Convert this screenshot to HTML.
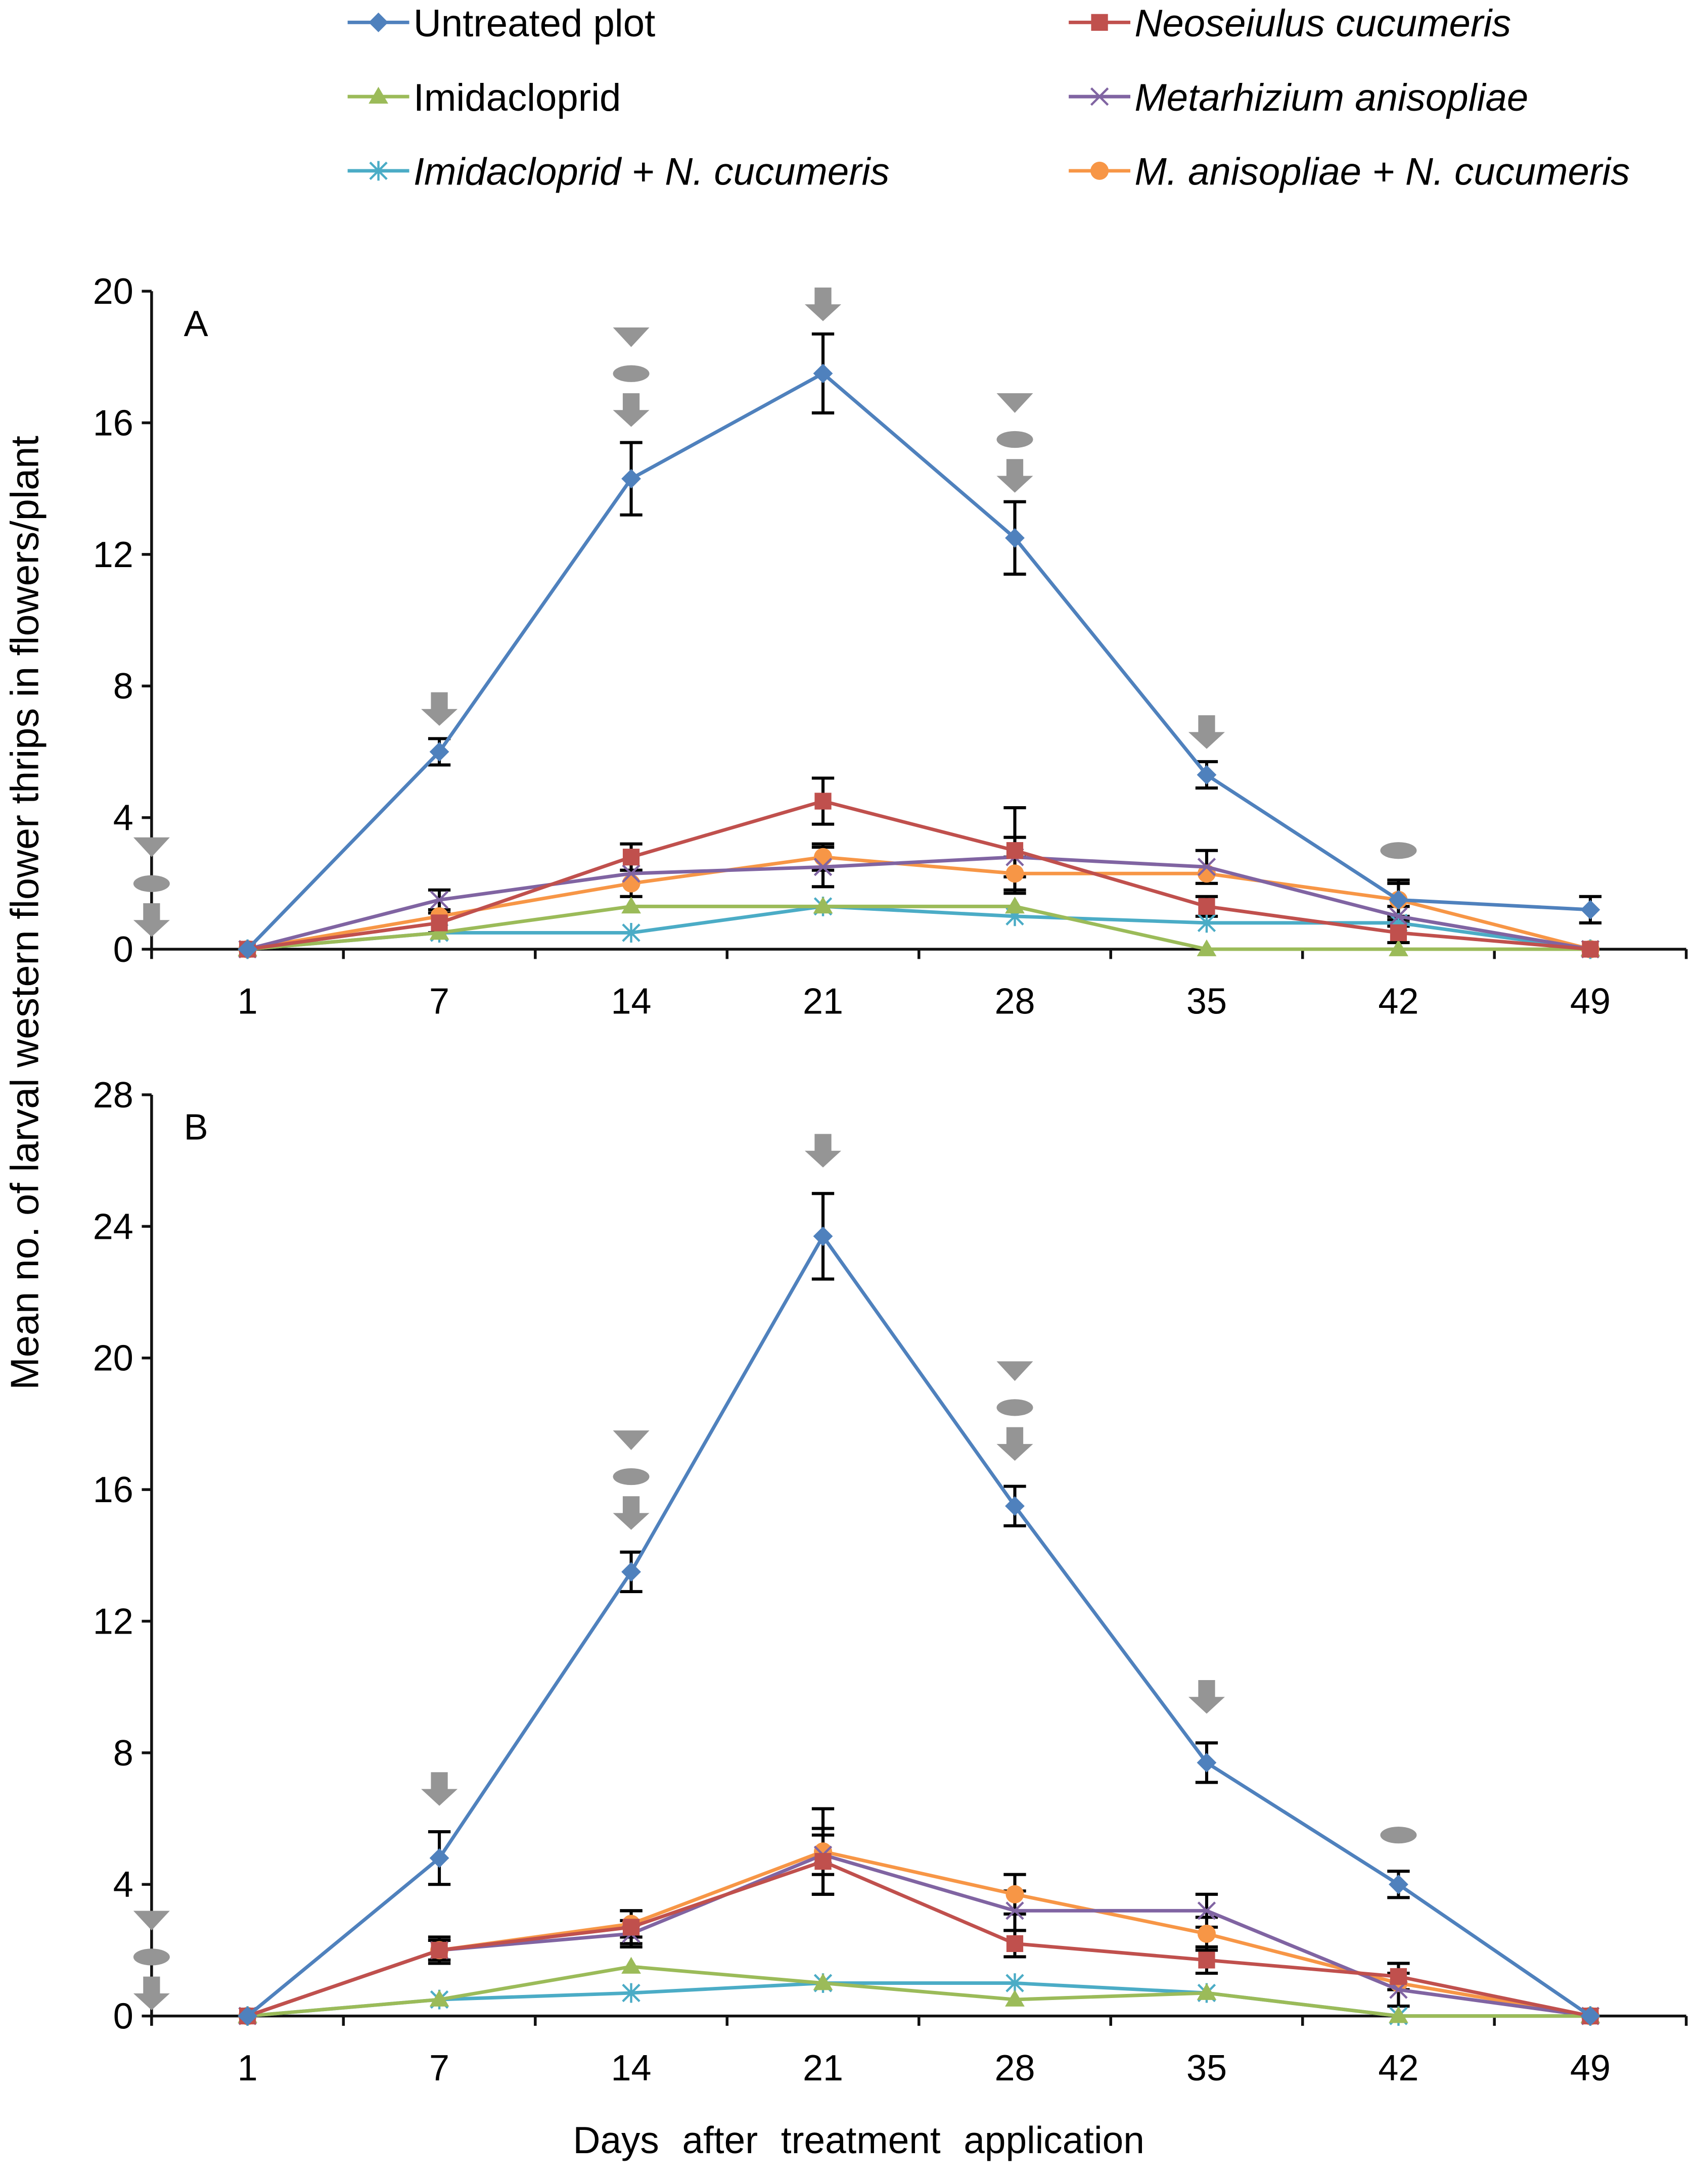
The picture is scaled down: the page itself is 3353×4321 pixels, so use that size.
<!DOCTYPE html>
<html><head><meta charset="utf-8"><style>
html,body{margin:0;padding:0;background:#fff;}
svg{display:block;font-family:"Liberation Sans",Arial,sans-serif;}
</style></head><body>
<svg id="chart" width="3353" height="4321" viewBox="0 0 1210 1560" xmlns="http://www.w3.org/2000/svg">
<g id="legend"></g>
<g id="panelA"></g>
<g id="panelB"></g>
<text x="0" y="0" transform="translate(27,652) rotate(-90)" text-anchor="middle" font-size="28">Mean no. of larval western flower thrips in flowers/plant</text>
<text x="613" y="1538" text-anchor="middle" font-size="27" word-spacing="9">Days after treatment application</text>
</svg>
<script>
const days = ["1","7","14","21","28","35","42","49"];
const seriesNames = ["Untreated plot","Neoseiulus cucumeris","Imidacloprid","Metarhizium anisopliae","Imidacloprid + N. cucumeris","M. anisopliae + N. cucumeris"];
const seriesColors = ["#4f81bd","#c0504d","#9bbb59","#8064a2","#4bacc6","#f79646"];
const seriesMarkers = ["diamond","square","triangle","x","star","circle"];
const ticksA = [0,4,8,12,16,20];
const ticksB = [0,4,8,12,16,20,24,28];
// Panel A values
const aUntreated = [0,6.0,14.3,17.5,12.5,5.3,1.5,1.2];
const aNeo = [0,0.8,2.8,4.5,3.0,1.3,0.5,0];
const aImid = [0,0.5,1.3,1.3,1.3,0,0,0];
const aMeta = [0,1.5,2.3,2.5,2.8,2.5,1.0,0];
const aImidNeo = [0,0.5,0.5,1.3,1.0,0.8,0.8,0];
const aMetaNeo = [0,1.0,2.0,2.8,2.3,2.3,1.5,0];
const aErrUntreated = [0,0.4,1.1,1.2,1.1,0.4,0.5,0.4];
const aErrNeo = [0,0.3,0.4,0.7,1.3,0.3,0.3,0];
const aErrMeta = [0,0.3,0,0.6,0.6,0.5,0.3,0];
const aErrMetaNeo = [0,0,0.4,0.4,0.5,0,0.6,0];
// Panel B values
const bUntreated = [0,4.8,13.5,23.7,15.5,7.7,4.0,0];
const bNeo = [0,2.0,2.7,4.7,2.2,1.7,1.2,0];
const bImid = [0,0.5,1.5,1.0,0.5,0.7,0,0];
const bMeta = [0,2.0,2.5,4.9,3.2,3.2,0.8,0];
const bImidNeo = [0,0.5,0.7,1.0,1.0,0.7,0,0];
const bMetaNeo = [0,2.0,2.8,5.0,3.7,2.5,1.0,0];
const bErrUntreated = [0,0.8,0.6,1.3,0.6,0.6,0.4,0];
const bErrNeo = [0,0.4,0.5,1.0,0.4,0.4,0.4,0];
const bErrMeta = [0,0.3,0.4,0.6,0.6,0.5,0.5,0];
const bErrMetaNeo = [0,0.3,0.4,1.3,0.6,0.5,0,0];
const zeroErr = [0,0,0,0,0,0,0,0];
// annotations: [categoryIndex (-0.5 = y-axis), symbols top-down, value at top symbol]
const annA = [[-0.5,["chev","ell","arrow"],3.1],[1,["arrow"],7.3],[2,["chev","ell","arrow"],18.6],[3,["arrow"],19.6],[4,["chev","ell","arrow"],16.6],[5,["arrow"],6.6],[6,["ell"],3.0]];
const annB = [[-0.5,["chev","ell","arrow"],2.9],[1,["arrow"],6.9],[2,["chev","ell","arrow"],17.5],[3,["arrow"],26.3],[4,["chev","ell","arrow"],19.6],[5,["arrow"],9.7],[6,["ell"],5.5]];

const NS="http://www.w3.org/2000/svg";
function mk(parent,tag,attrs){const e=document.createElementNS(NS,tag);for(const k in attrs)e.setAttribute(k,attrs[k]);parent.appendChild(e);return e;}

function marker(g,type,x,y,c){
  let e;
  if(type==="diamond") e=mk(g,"polygon",{points:`${x},${y-7} ${x+7},${y} ${x},${y+7} ${x-7},${y}`,fill:c});
  else if(type==="square") e=mk(g,"rect",{x:x-6,y:y-6,width:12,height:12,fill:c});
  else if(type==="triangle") e=mk(g,"polygon",{points:`${x},${y-7} ${x+7},${y+5} ${x-7},${y+5}`,fill:c});
  else if(type==="circle") e=mk(g,"circle",{cx:x,cy:y,r:6.5,fill:c});
  else if(type==="x") e=mk(g,"path",{d:`M${x-6},${y-6}L${x+6},${y+6}M${x-6},${y+6}L${x+6},${y-6}`,stroke:c,"stroke-width":1.6});
  else e=mk(g,"path",{d:`M${x-6},${y-6}L${x+6},${y+6}M${x-6},${y+6}L${x+6},${y-6}M${x},${y-7}L${x},${y+7}`,stroke:c,"stroke-width":1.6});
  
  
}

function ann(g,type,x,y){
  let e;
  if(type==="arrow") e=mk(g,"polygon",{points:`${x-6},${y-12} ${x+6},${y-12} ${x+6},${y} ${x+13},${y} ${x},${y+12} ${x-13},${y} ${x-6},${y}`,fill:"#959595"});
  else if(type==="chev") e=mk(g,"polygon",{points:`${x-13},${y-7} ${x+13},${y-7} ${x},${y+7}`,fill:"#959595"});
  else e=mk(g,"ellipse",{cx:x,cy:y,rx:13,ry:6,fill:"#959595"});
  
  
}

function panel(g,y0,ymax,ticks,series,errs,anns,label){
  const xL=108,band=137,ppu=23.5;
  const xs=i=>xL+band*(i+0.5);
  const ys=v=>y0-v*ppu;
  const top=ys(ymax);
  const ax=mk(g,"path",{d:`M${xL},${top}L${xL},${y0}L${xL+band*8},${y0}`,stroke:"#111",fill:"none","stroke-width":2});
  
  
  ticks.forEach(t=>{
    mk(g,"line",{x1:xL-7,x2:xL,y1:ys(t),y2:ys(t),stroke:"#111","stroke-width":2});
    const tx=mk(g,"text",{x:xL-13,y:ys(t)+9,"text-anchor":"end","font-size":26});
    tx.textContent=t;
    
    
  });
  for(let i=0;i<=8;i++) mk(g,"line",{x1:xL+band*i,x2:xL+band*i,y1:y0,y2:y0+7,stroke:"#111","stroke-width":2});
  days.forEach((d,i)=>{
    const tx=mk(g,"text",{x:xs(i),y:y0+46,"text-anchor":"middle","font-size":26});
    tx.textContent=d;
    
    
  });
  const pl=mk(g,"text",{x:131,y:top+32,"font-size":26});
  pl.textContent=label;
  
  
  series.forEach((s,si)=>{
    const er=errs[si];
    s.forEach((v,i)=>{
      const e=er[i]; if(!e) return;
      const x=xs(i);
      mk(g,"path",{d:`M${x},${ys(v+e)}L${x},${ys(Math.max(0,v-e))}M${x-8},${ys(v+e)}L${x+8},${ys(v+e)}M${x-8},${ys(v-e)}L${x+8},${ys(v-e)}`,stroke:"#000","stroke-width":2.2,fill:"none"});
    });
  });
  for(let si=series.length-1;si>=0;si--){
    const s=series[si];
    const sg=mk(g,"g",{});
    
    
    mk(sg,"polyline",{points:s.map((v,i)=>xs(i)+","+ys(v)).join(" "),fill:"none",stroke:seriesColors[si],"stroke-width":2.5});
    s.forEach((v,i)=>marker(sg,seriesMarkers[si],xs(i),ys(v),seriesColors[si]));
  }
  anns.forEach(a=>{
    const x=xs(a[0]);
    let y=ys(a[2]);
    a[1].forEach(t=>{ann(g,t,x,y);y+=26;});
  });
}

panel(document.getElementById("panelA"),678,20,ticksA,[aUntreated,aNeo,aImid,aMeta,aImidNeo,aMetaNeo],[aErrUntreated,aErrNeo,zeroErr,aErrMeta,zeroErr,aErrMetaNeo],annA,"A");
panel(document.getElementById("panelB"),1440,28,ticksB,[bUntreated,bNeo,bImid,bMeta,bImidNeo,bMetaNeo],[bErrUntreated,bErrNeo,zeroErr,bErrMeta,zeroErr,bErrMetaNeo],annB,"B");

const lg=document.getElementById("legend");
const legendPos=[[248,16],[763,16],[248,69],[763,69],[248,122],[763,122]];
seriesNames.forEach((n,i)=>{
  const [x,y]=legendPos[i];
  const eg=mk(lg,"g",{});
  
  
  mk(eg,"line",{x1:x,x2:x+44,y1:y,y2:y,stroke:seriesColors[i],"stroke-width":2.5});
  marker(eg,seriesMarkers[i],x+22,y,seriesColors[i]);
  const t=mk(eg,"text",{x:x+47,y:y+10,"font-size":27.5});
  if(i===1||i===3||i===5) t.setAttribute("font-style","italic");
  if(i===4){t.setAttribute("font-style","italic");}
  t.textContent=n;
});
</script>
</body></html>
